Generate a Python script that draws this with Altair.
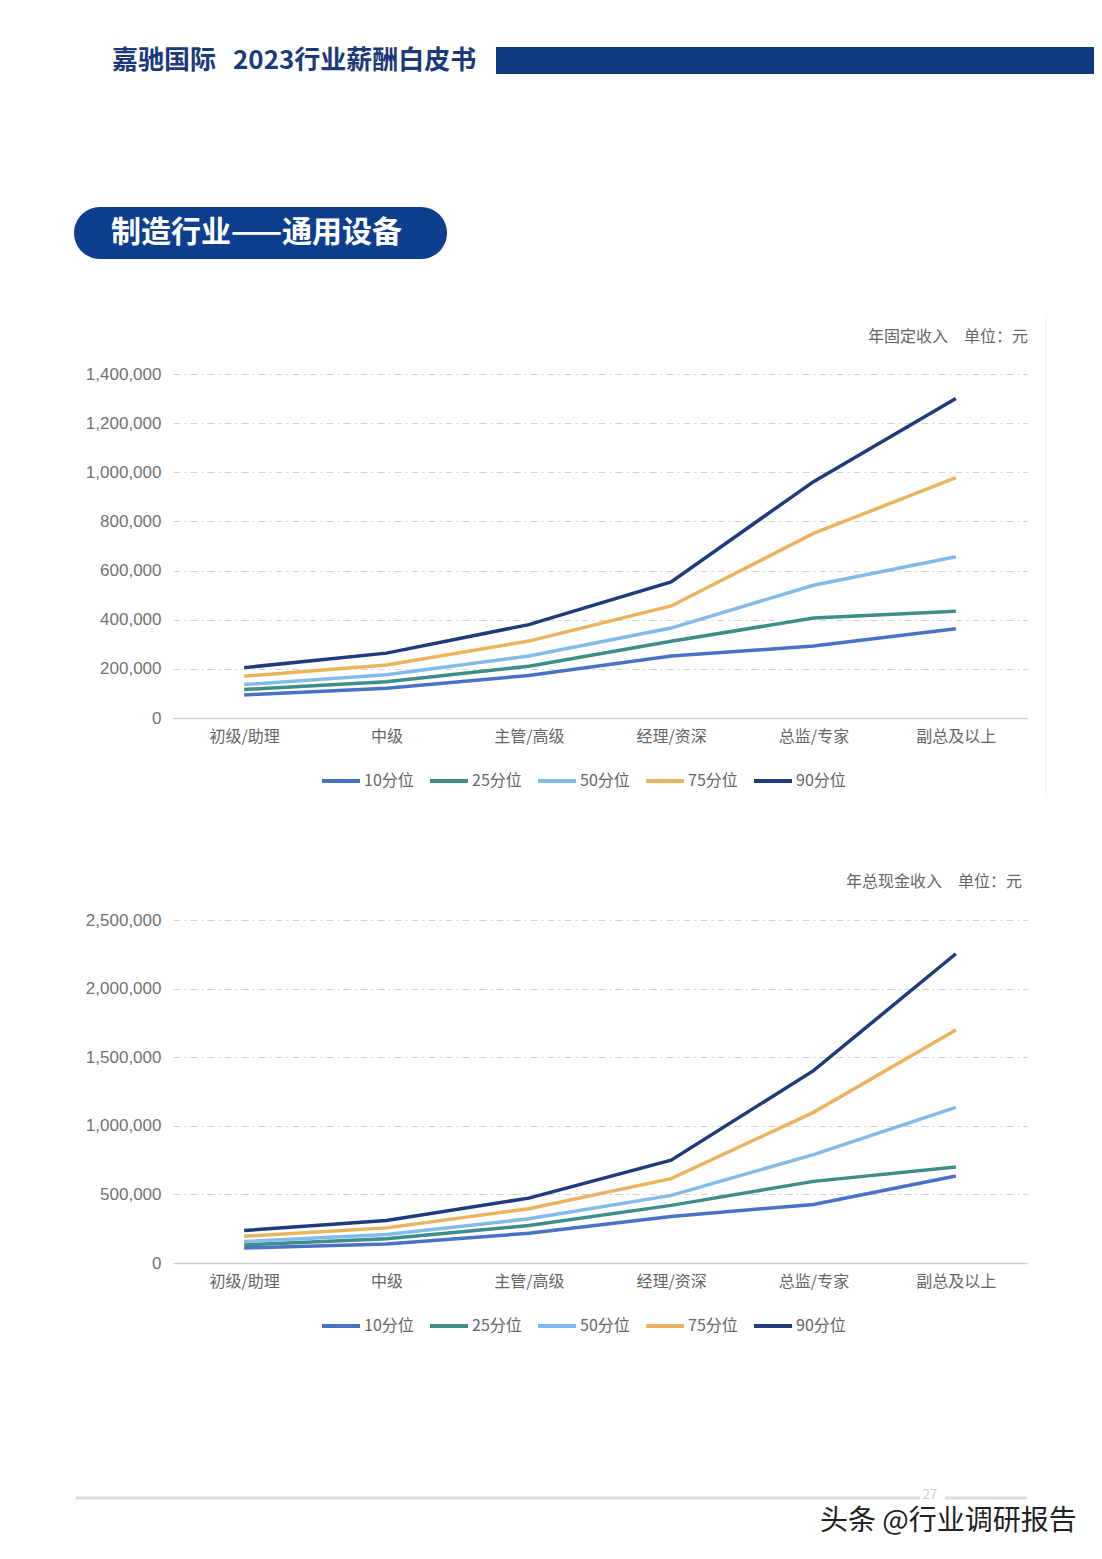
import altair as alt
import pandas as pd

FONT = "Noto Sans CJK SC"
NUMFONT = "Liberation Sans"

levels = ["初级/助理", "中级", "主管/高级", "经理/资深", "总监/专家", "副总及以上"]
series = ["10分位", "25分位", "50分位", "75分位", "90分位"]
colors = ["#4a72c4", "#3d8d88", "#80bbea", "#eab45f", "#1f3b7c"]

# 年固定收入
fixed_p10 = [94000, 121000, 173000, 252000, 293000, 363000]
fixed_p25 = [116000, 148000, 211000, 312000, 407000, 434000]
fixed_p50 = [136000, 176000, 252000, 366000, 540000, 656000]
fixed_p75 = [170000, 216000, 313000, 456000, 751000, 978000]
fixed_p90 = [205000, 264000, 380000, 554000, 962000, 1300000]

# 年总现金收入
cash_p10 = [110000, 139000, 217000, 339000, 427000, 634000]
cash_p25 = [132000, 176000, 273000, 420000, 595000, 700000]
cash_p50 = [156000, 207000, 322000, 493000, 790000, 1134000]
cash_p75 = [195000, 256000, 395000, 615000, 1098000, 1698000]
cash_p90 = [237000, 310000, 473000, 749000, 1402000, 2254000]

fixed_ticks = [0, 200000, 400000, 600000, 800000, 1000000, 1200000, 1400000]
cash_ticks = [0, 500000, 1000000, 1500000, 2000000, 2500000]


def long_df(cols):
    rows = []
    for s, vals in zip(series, cols):
        for lv, v in zip(levels, vals):
            rows.append({"level": lv, "series": s, "value": v})
    return pd.DataFrame(rows)


fixed_df = long_df([fixed_p10, fixed_p25, fixed_p50, fixed_p75, fixed_p90])
cash_df = long_df([cash_p10, cash_p25, cash_p50, cash_p75, cash_p90])
one = pd.DataFrame({"k": [1]})

W = 854


def line_chart(df, ticks, H):
    x = alt.X("level:N", sort=levels, title=None,
              scale=alt.Scale(type="point", padding=0.5),
              axis=alt.Axis(labelAngle=0, labelFont=FONT, labelFontSize=16,
                            labelColor="#666666", labelPadding=10, ticks=False,
                            domainColor="#cfcfcf", domainWidth=1.5, grid=False))
    y = alt.Y("value:Q", title=None,
              scale=alt.Scale(domain=[ticks[0], ticks[-1]], nice=False),
              axis=alt.Axis(values=ticks, format=",.0f", labelFont=NUMFONT, labelFontSize=17,
                            labelColor="#727272", labelPadding=12, ticks=False,
                            domain=False, grid=True, gridColor="#d3d3d3",
                            gridDash=[7, 4, 2, 4], gridWidth=1))
    color = alt.Color("series:N", sort=series,
                      scale=alt.Scale(domain=series, range=colors),
                      legend=alt.Legend(title=None, orient="none", direction="horizontal",
                                        legendX=147, legendY=H + 42,
                                        symbolType="stroke", symbolSize=1444,
                                        symbolStrokeWidth=4, labelFont=FONT,
                                        labelFontSize=16, labelColor="#666666",
                                        labelOffset=2, columnPadding=8))
    return alt.Chart(df).mark_line(strokeWidth=3.5).encode(x=x, y=y, color=color)


def vtext(text, x, y, align="left", **kw):
    return alt.Chart(one).mark_text(text=text, font=FONT, align=align,
                                    baseline="middle", **kw).encode(
        x=alt.value(x), y=alt.value(y))


def vrect(x, x2, y, y2, **kw):
    return alt.Chart(one).mark_rect(**kw).encode(
        x=alt.value(x), x2=alt.value(x2), y=alt.value(y), y2=alt.value(y2))


def vrule(x, x2, y, y2, **kw):
    return alt.Chart(one).mark_rule(**kw).encode(
        x=alt.value(x), x2=alt.value(x2), y=alt.value(y), y2=alt.value(y2))


H1 = 344
H2 = 343

# chart 1 origin at page (173, 374)
header = [
    vtext("嘉驰国际", -61, -313, fontSize=26, fontWeight="bold", color="#1b3a7a"),
    vtext("2023行业薪酬白皮书", 60, -313, fontSize=26, fontWeight="bold", color="#1b3a7a"),
    vrect(323, 921, -327, -300, color="#0b3a7e"),
    vrect(-99, 274, -167, -115, color="#0d3f8e", cornerRadius=26),
    vtext("制造行业——通用设备", -62, -141, fontSize=30, fontWeight="bold", color="#ffffff"),
    vrule(873, 873, -59, 423, color="#efefef", strokeWidth=1),
    vtext("年固定收入\u3000单位：元", 855, -37, align="right", fontSize=16, color="#666666"),
]

chart1 = alt.layer(
    line_chart(fixed_df, fixed_ticks, H1), *header
).properties(width=W, height=H1)

# chart 2 origin at page (173, 920)
footer = [
    vtext("年总现金收入\u3000单位：元", 849, -38, align="right", fontSize=16, color="#666666"),
    vrule(-97.5, 747, 578, 578, color="#dddddd", strokeWidth=3),
    vrule(772, 854, 578, 578, color="#dddddd", strokeWidth=3),
    vtext("27", 757, 575, align="center", fontSize=13, color="#cccccc"),
    vtext("头条 @行业调研报告", 647, 602, fontSize=28, color="#222222"),
]

chart2 = alt.layer(
    line_chart(cash_df, cash_ticks, H2), *footer
).properties(width=W, height=H2)

chart = alt.vconcat(chart1, chart2, spacing=76).resolve_scale(
    color="independent", x="independent", y="independent"
).properties(
    padding={"top": 39, "left": 66, "right": 0, "bottom": 0},
    background="#ffffff",
).configure_view(stroke="transparent", strokeWidth=0)

chart.save("out.html", embed_options={"renderer": "svg", "actions": False})
